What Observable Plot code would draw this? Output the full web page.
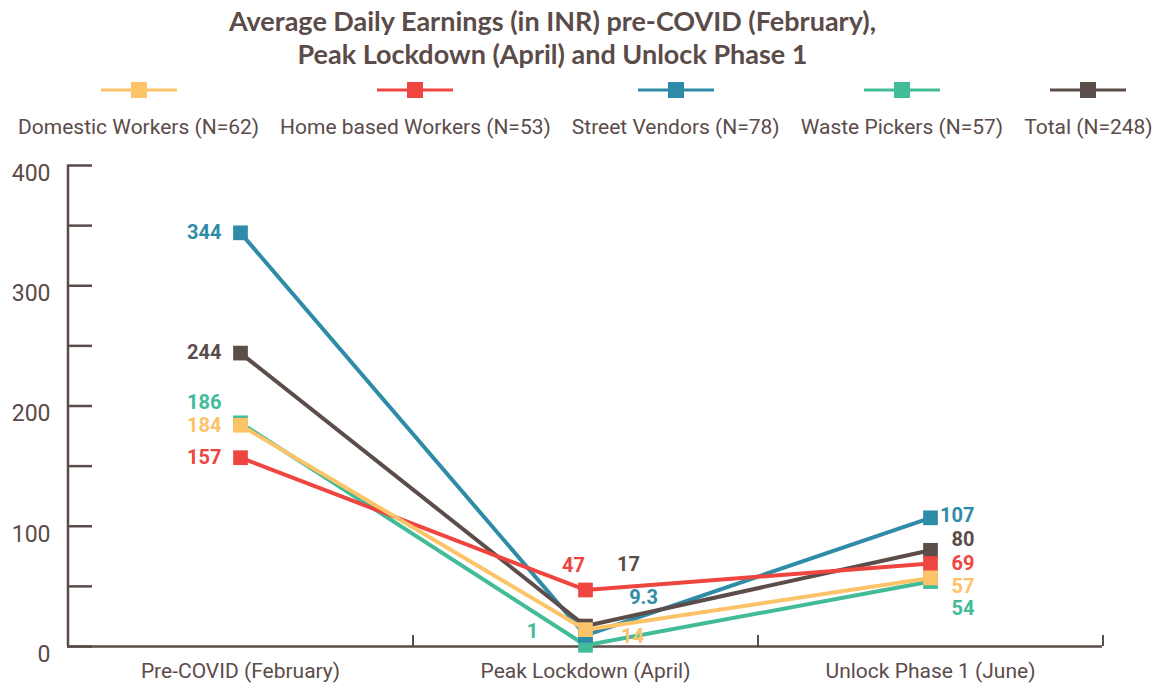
<!DOCTYPE html>
<html>
<head>
<meta charset="utf-8">
<script src="https://cdn.jsdelivr.net/npm/d3@7"></script>
<script src="https://cdn.jsdelivr.net/npm/@observablehq/plot@0.6"></script>
<style>
  html, body { margin: 0; padding: 0; background: #fff; }
  body { width: 1158px; height: 686px; position: relative; overflow: hidden; font-family: Roboto, "Noto Sans", sans-serif; color: #5b4b49; }
  #title { position: absolute; top: 4px; left: 0; width: 1105px; text-align: center; font-family: Lato, Roboto, sans-serif; font-weight: 700; font-size: 27px; line-height: 33px; }
  #title span { display: inline-block; white-space: nowrap; }
  #legend { position: absolute; top: 79px; left: 18px; display: flex; gap: 21px; }
  .item { display: flex; flex-direction: column; align-items: center; }
  .item svg { display: block; }
  .item .lab { margin-top: 14px; font-size: 21px; line-height: 24px; white-space: nowrap; }
  #chart { position: absolute; top: 145px; left: 0; }
</style>
</head>
<body>
<div id="title"><span>Average Daily Earnings (in INR) pre-COVID (February),</span><br><span>Peak Lockdown (April) and Unlock Phase 1</span></div>
<div id="legend"></div>
<div id="chart"></div>
<script>
// ---- data ----
const periods = ["Pre-COVID (February)", "Peak Lockdown (April)", "Unlock Phase 1 (June)"];
const seriesNames = ["Domestic Workers (N=62)", "Home based Workers (N=53)", "Street Vendors (N=78)", "Waste Pickers (N=57)", "Total (N=248)"];
const domesticWorkers = [184, 14, 57];
const homeBasedWorkers = [157, 47, 69];
const streetVendors = [344, 9.3, 107];
const wastePickers = [186, 1, 54];
const totalWorkers = [244, 17, 80];
const yTickLabels = [0, 100, 200, 300, 400];
const yTickMarks = [0, 50, 100, 150, 200, 250, 300, 350, 400];

// ---- styles ----
const colors = ["#FCC368", "#EF4540", "#2F8CA8", "#42BC98", "#5C4D4A"];
const ink = "#5b4b49";
const seriesValues = [domesticWorkers, homeBasedWorkers, streetVendors, wastePickers, totalWorkers];
const drawOrder = [3, 2, 4, 1, 0];

const data = [];
seriesNames.forEach((s, si) => periods.forEach((p, pi) => data.push({series: s, si, period: p, pi, value: seriesValues[si][pi]})));

// label placement (style offsets, px)
const labelStyle = (d) => {
  if (d.pi === 0) return {dx: -19, dy: d.si === 3 ? -20 : 0, anchor: "end"};
  if (d.pi === 2) {
    const dyMap = {0: 9, 1: 0, 2: -2, 3: 27, 4: -11};
    return {dx: 44, dy: dyMap[d.si], anchor: "end"};
  }
  const m = {0: [47, 7], 1: [-12, -24], 2: [58, -38], 3: [-53, -14], 4: [43, -61]};
  return {dx: m[d.si][0], dy: m[d.si][1], anchor: "middle"};
};

const W = 1158, H = 541, ML = 67, MR = 56, MT = 20, MB = 40;
const step = (W - ML - MR) / periods.length;

// ---- legend ----
const legend = document.getElementById("legend");
seriesNames.forEach((s, i) => {
  const it = document.createElement("div");
  it.className = "item";
  it.innerHTML = `<svg width="76" height="22"><line x1="0" x2="76" y1="11" y2="11" stroke="${colors[i]}" stroke-width="3"/><rect x="30" y="3" width="16" height="16" fill="${colors[i]}"/></svg><div class="lab">${s}</div>`;
  legend.appendChild(it);
});

// ---- chart ----
const marks = [];
marks.push(Plot.ruleY(yTickMarks, {y: d => d, stroke: ink, strokeWidth: 2.5, insetRight: (W - ML - MR) - 25}));
marks.push(Plot.ruleX(periods, {x: d => d, dx: step / 2, y1: 0, y2: 0, insetTop: -11, stroke: ink, strokeWidth: 2}));
marks.push(Plot.ruleX([periods[0]], {x: d => d, dx: -step / 2, y1: 0, y2: 400, stroke: ink, strokeWidth: 2.5}));
marks.push(Plot.ruleY([0], {stroke: ink, strokeWidth: 2.5}));
marks.push(Plot.axisY(yTickLabels, {tickSize: 0, tickPadding: 17, dy: 8, fontSize: 23, fill: ink, label: null}));
marks.push(Plot.axisX({tickSize: 0, tickPadding: 17, fontSize: 21, fill: ink, label: null}));
for (const si of drawOrder) {
  const sd = data.filter(d => d.si === si);
  marks.push(Plot.line(sd, {x: "period", y: "value", stroke: colors[si], strokeWidth: 4}));
  marks.push(Plot.dot(sd, {x: "period", y: "value", symbol: "square", r: 8.3, fill: colors[si], stroke: "none"}));
}
for (const d of data) {
  const st = labelStyle(d);
  marks.push(Plot.text([d], {x: "period", y: "value", text: dd => String(dd.value), dx: st.dx, dy: st.dy, textAnchor: st.anchor,
    fill: colors[d.si], fontSize: 20, fontWeight: 700}));
}

const chart = Plot.plot({
  width: W, height: H,
  marginLeft: ML, marginRight: MR, marginTop: MT, marginBottom: MB,
  style: {fontFamily: "Roboto, sans-serif", background: "transparent", color: ink},
  x: {type: "point", domain: periods, padding: 0.5, axis: null},
  y: {domain: [0, 400], axis: null},
  marks
});
document.getElementById("chart").appendChild(chart);
</script>
</body>
</html>
